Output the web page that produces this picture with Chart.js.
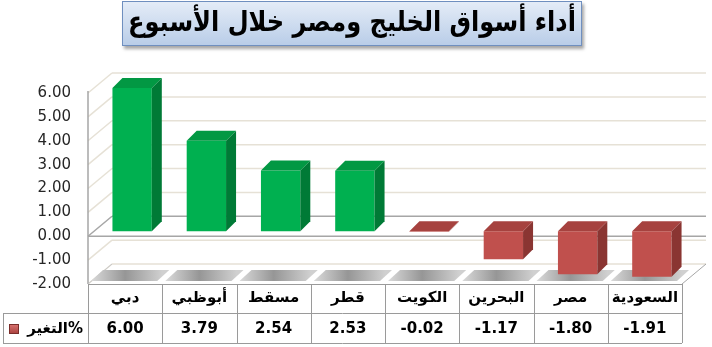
<!DOCTYPE html>
<html>
<head>
<meta charset="utf-8">
<script src="https://cdn.jsdelivr.net/npm/chart.js"></script>
<style>
body { margin: 0; background: #fff; width: 712px; height: 347px; overflow: hidden; position: relative; }
#title {
    position: absolute; left: 122px; top: 1px; width: 458px; height: 43px;
    border: 1px solid #6f8fbf; box-shadow: 2px 3px 3px rgba(0,0,0,0.35);
    background: linear-gradient(#e4ecf7, #b9cde8);
    font: bold 28px "DejaVu Sans", sans-serif; color: #000; white-space: nowrap;
    line-height: 40px; direction: rtl; z-index: 2; overflow: hidden;
}
#title span {
    position: absolute; left: 50%; top: 0;
    transform: translateX(-50%) scaleX(0.86); transform-origin: center;
}
canvas { position: absolute; left: 0; top: 0; }
</style>
</head>
<body>
<div id="title"><span></span></div>
<canvas id="myChart" width="712" height="347"></canvas>
<script>
var titleText = "أداء أسواق الخليج ومصر خلال الأسبوع";
var categories = ["دبي", "أبوظبي", "مسقط", "قطر", "الكويت", "البحرين", "مصر", "السعودية"];
var changes = [6.00, 3.79, 2.54, 2.53, -0.02, -1.17, -1.80, -1.91];
var seriesName = "%التغير";
var yMin = -2, yMax = 6, yStep = 1;

document.querySelector("#title span").textContent = titleText;

// depth of the 3d box and of the bars
var DX = 24, DY = -20;
var BX = 7, BY = -5, BD = 10;

var green = { front: "#00b050", side: "#007a36", top: "#029843" };
var red = { front: "#c0504d", side: "#8a3532", top: "#a6423f" };

function line(ctx, x1, y1, x2, y2, color, w) {
    ctx.beginPath();
    ctx.moveTo(x1, y1);
    ctx.lineTo(x2, y2);
    ctx.strokeStyle = color;
    ctx.lineWidth = w;
    ctx.stroke();
}

function poly(ctx, pts, fill) {
    ctx.beginPath();
    ctx.moveTo(pts[0][0], pts[0][1]);
    for (var k = 1; k < pts.length; k++) ctx.lineTo(pts[k][0], pts[k][1]);
    ctx.closePath();
    ctx.fillStyle = fill;
    ctx.fill();
}

var box3d = {
    id: "box3d",
    beforeDatasetsDraw: function (chart) {
        var ctx = chart.ctx, a = chart.chartArea;
        var ys = chart.scales.y, xs = chart.scales.x;
        ctx.save();
        // walls grid
        for (var v = yMin; v <= yMax; v += yStep) {
            var y = ys.getPixelForValue(v);
            var c = v === 0 ? "#a6a6a6" : "#e6e1d6";
            line(ctx, a.left, y, a.left + DX, y + DY, c, 1.5);
            line(ctx, a.left + DX, y + DY, a.right + DX, y + DY, c, 1.5);
        }
        var y0 = ys.getPixelForValue(0);
        line(ctx, a.left, y0, a.right + DX, y0, "#a6a6a6", 1.5);
        // floor
        var yb = ys.getPixelForValue(yMin);
        line(ctx, a.left, a.top - 2, a.left, yb, "#a6a6a6", 1.5);
        line(ctx, a.left, yb, a.left + DX, yb + DY, "#c8c8c8", 1);
        line(ctx, a.right, yb, a.right + DX, yb + DY, "#a6a6a6", 1);
        var w = (a.right - a.left) / categories.length;
        for (var i = 0; i < categories.length; i++) {
            var cl = a.left + i * w, cr = cl + w;
            var g = ctx.createLinearGradient(cl, 0, cr, 0);
            g.addColorStop(0, "#e0e0e0");
            g.addColorStop(0.5, "#969696");
            g.addColorStop(1, "#d0d0d0");
            poly(ctx, [[cl + 3, yb - 3], [cr - 5, yb - 3], [cr + 7, yb - 14], [cl + 15, yb - 14]], g);
        }
        // data table
        var tb = yb + 29, te = tb + 30;
        ctx.lineWidth = 1;
        line(ctx, a.left, yb + 0.5, a.right, yb + 0.5, "#9a9a9a", 1);
        line(ctx, 3, tb + 0.5, a.right, tb + 0.5, "#9a9a9a", 1);
        line(ctx, 3, te + 0.5, a.right, te + 0.5, "#9a9a9a", 1);
        line(ctx, 3.5, tb, 3.5, te, "#9a9a9a", 1);
        for (var i = 0; i <= categories.length; i++) {
            var x = Math.round(a.left + i * w) + 0.5;
            line(ctx, x, yb, x, te, "#9a9a9a", 1);
        }
        ctx.fillStyle = "#000";
        ctx.textAlign = "center";
        ctx.textBaseline = "middle";
        for (var i = 0; i < categories.length; i++) {
            var cx = xs.getPixelForValue(i);
            ctx.direction = "rtl";
            ctx.font = "bold 15px 'DejaVu Sans'";
            ctx.fillText(categories[i], cx, yb + 14);
            ctx.direction = "ltr";
            ctx.font = "bold 15px 'DejaVu Sans'";
            ctx.fillText(changes[i].toFixed(2), cx, tb + 16);
        }
        // legend key
        var lg = ctx.createLinearGradient(0, tb + 10, 0, tb + 21);
        lg.addColorStop(0, "#e07a77");
        lg.addColorStop(1, "#a8403d");
        ctx.fillStyle = lg;
        ctx.fillRect(9, tb + 11, 10, 10);
        ctx.strokeStyle = "#7a2d2a";
        ctx.strokeRect(9.5, tb + 11.5, 9, 9);
        ctx.fillStyle = "#000";
        ctx.direction = "rtl";
        ctx.textAlign = "right";
        ctx.font = "bold 15px 'DejaVu Sans'";
        ctx.fillText(seriesName, a.left - 5, tb + 16);
        ctx.restore();

        ctx.save();
        ctx.translate(BX, BY);
    },
    afterDatasetsDraw: function (chart) {
        var ctx = chart.ctx;
        var meta = chart.getDatasetMeta(0);
        meta.data.forEach(function (bar, i) {
            var p = bar.getProps(["x", "y", "base", "width"], true);
            var l = p.x - p.width / 2, r = p.x + p.width / 2;
            var t = Math.min(p.y, p.base), b = Math.max(p.y, p.base);
            var col = changes[i] >= 0 ? green : red;
            poly(ctx, [[r, t], [r + BD, t - BD], [r + BD, b - BD], [r, b]], col.side);
            poly(ctx, [[l, t], [l + BD, t - BD], [r + BD, t - BD], [r, t]], col.top);
        });
        ctx.restore();
    }
};

new Chart("myChart", {
    type: "bar",
    data: {
        labels: categories,
        datasets: [{
            label: seriesName,
            data: changes,
            backgroundColor: changes.map(function (v) { return v >= 0 ? green.front : red.front; }),
            barPercentage: 0.53,
            categoryPercentage: 1
        }]
    },
    options: {
        responsive: false,
        animation: false,
        layout: { padding: { top: 93, right: 30, bottom: 63, left: 0 } },
        scales: {
            x: { display: false },
            y: {
                min: yMin, max: yMax,
                afterFit: function (s) { s.width = 88; },
                grid: { display: false, drawTicks: false },
                border: { display: false },
                ticks: {
                    stepSize: yStep,
                    padding: 17,
                    color: "#262626",
                    font: { family: "DejaVu Sans", size: 15 },
                    callback: function (v) { return v.toFixed(2); }
                }
            }
        },
        plugins: { legend: { display: false }, tooltip: { enabled: false } }
    },
    plugins: [box3d]
});
</script>
</body>
</html>
